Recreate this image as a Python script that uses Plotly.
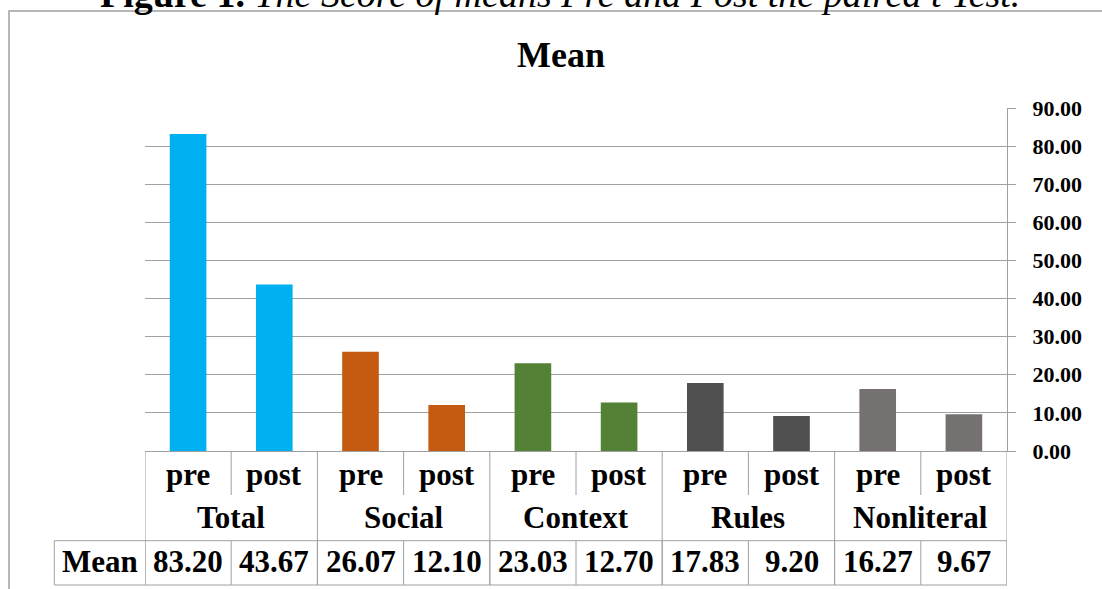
import plotly.graph_objects as go

# ---------------- data ----------------
groups = ["Total", "Social", "Context", "Rules", "Nonliteral"]
phases = ["pre", "post"]
means = [83.20, 43.67, 26.07, 12.10, 23.03, 12.70, 17.83, 9.20, 16.27, 9.67]
group_colors = ["#00B0F0", "#C55A11", "#538135", "#505050", "#767171"]
y_ticks = [0, 10, 20, 30, 40, 50, 60, 70, 80, 90]
chart_title = "Mean"
row_label = "Mean"
caption = "<b>Figure 1.</b><i> The Score of means Pre and Post the paired t Test.</i>"

# ---------------- layout helpers ----------------
W, H = 1102, 589
L, R, T, B = 145, 1007, 108, 451
FONT = "Liberation Serif"
GRID = "#A0A0A0"


def px(x):
    return (x - L) / (R - L)


def py(y):
    return (B - y) / (B - T)


cats = [f"{g} {p}" for g in groups for p in phases]
bar_colors = [c for c in group_colors for _ in phases]
n = len(cats)
npg = len(phases)

fig = go.Figure(
    go.Bar(
        x=cats,
        y=means,
        marker=dict(color=bar_colors, line=dict(width=0)),
        width=0.425,
        hoverinfo="x+y",
    )
)

annotations = []
shapes = []

# caption (partly clipped at top) and chart title
annotations.append(dict(text=caption, x=px(560), y=py(-6), xref="paper", yref="paper",
                        showarrow=False, xanchor="center", yanchor="middle",
                        font=dict(family=FONT, size=38, color="black")))
annotations.append(dict(text=f"<b>{chart_title}</b>", x=px(561), y=py(55), xref="paper", yref="paper",
                        showarrow=False, xanchor="center", yanchor="middle",
                        font=dict(family=FONT, size=36, color="black")))

tfont = dict(family=FONT, size=31, color="black")
# phase row and value row
for i, cat in enumerate(cats):
    annotations.append(dict(text=f"<b>{phases[i % npg]}</b>", x=i, xref="x", y=py(474.5), yref="paper",
                            showarrow=False, xanchor="center", yanchor="middle", font=tfont))
    annotations.append(dict(text=f"<b>{means[i]:.2f}</b>", x=i, xref="x", y=py(561.2), yref="paper",
                            showarrow=False, xanchor="center", yanchor="middle", font=tfont))
# group row
for j, g in enumerate(groups):
    annotations.append(dict(text=f"<b>{g}</b>", x=j * npg + (npg - 1) / 2, xref="x", y=py(517.2), yref="paper",
                            showarrow=False, xanchor="center", yanchor="middle", font=tfont))
# row label
annotations.append(dict(text=f"<b>{row_label}</b>", x=px(99.6), xref="paper", y=py(561.2), yref="paper",
                        showarrow=False, xanchor="center", yanchor="middle", font=tfont))

line = dict(color=GRID, width=1)
# dividers inside groups (first row only)
for j in range(len(groups)):
    for k in range(1, npg):
        xv = j * npg + k - 0.5
        shapes.append(dict(type="line", xref="x", yref="paper", x0=xv, x1=xv, y0=py(451), y1=py(495), line=line))
# group boundaries through header rows and value row
for j in range(len(groups) + 1):
    xv = j * npg - 0.5
    shapes.append(dict(type="line", xref="x", yref="paper", x0=xv, x1=xv, y0=py(451), y1=py(585), line=line))
# value row verticals
for i in range(n + 1):
    xv = i - 0.5
    shapes.append(dict(type="line", xref="x", yref="paper", x0=xv, x1=xv, y0=py(540.7), y1=py(585), line=line))
shapes.append(dict(type="line", xref="paper", yref="paper", x0=px(54.3), x1=px(54.3), y0=py(540.7), y1=py(585), line=line))
# value row horizontals
for yy in (540.7, 585):
    shapes.append(dict(type="line", xref="paper", yref="paper", x0=px(54.3), x1=1.0, y0=py(yy), y1=py(yy), line=line))
# outer frame
shapes.append(dict(type="rect", xref="paper", yref="paper", x0=px(9), x1=px(1120), y0=py(11), y1=py(610),
                   line=dict(color="#A0A0A0", width=1.5), layer="below"))

fig.update_layout(
    width=W, height=H,
    margin=dict(l=L, r=W - R, t=T, b=H - B, pad=0),
    paper_bgcolor="white", plot_bgcolor="white",
    showlegend=False,
    annotations=annotations,
    shapes=shapes,
    xaxis=dict(type="category", range=[-0.5, n - 0.5], showticklabels=False, ticks="",
               showline=True, linecolor=GRID, linewidth=1, showgrid=False, zeroline=False,
               fixedrange=True),
    yaxis=dict(side="right", range=[0, 90], tickvals=y_ticks, tickformat=".2f",
               showgrid=True, gridcolor=GRID, gridwidth=1, zeroline=False,
               showline=True, linecolor=GRID, linewidth=1,
               ticks="outside", ticklen=8, tickcolor=GRID, tickwidth=1,
               ticklabelstandoff=12,
               tickfont=dict(family=FONT, size=22, color="black", weight="bold"),
               fixedrange=True),
)

fig.write_html(
    "out.html",
    config={"displayModeBar": False},
    post_script="document.body.style.margin='0';document.body.style.overflow='hidden';",
)
